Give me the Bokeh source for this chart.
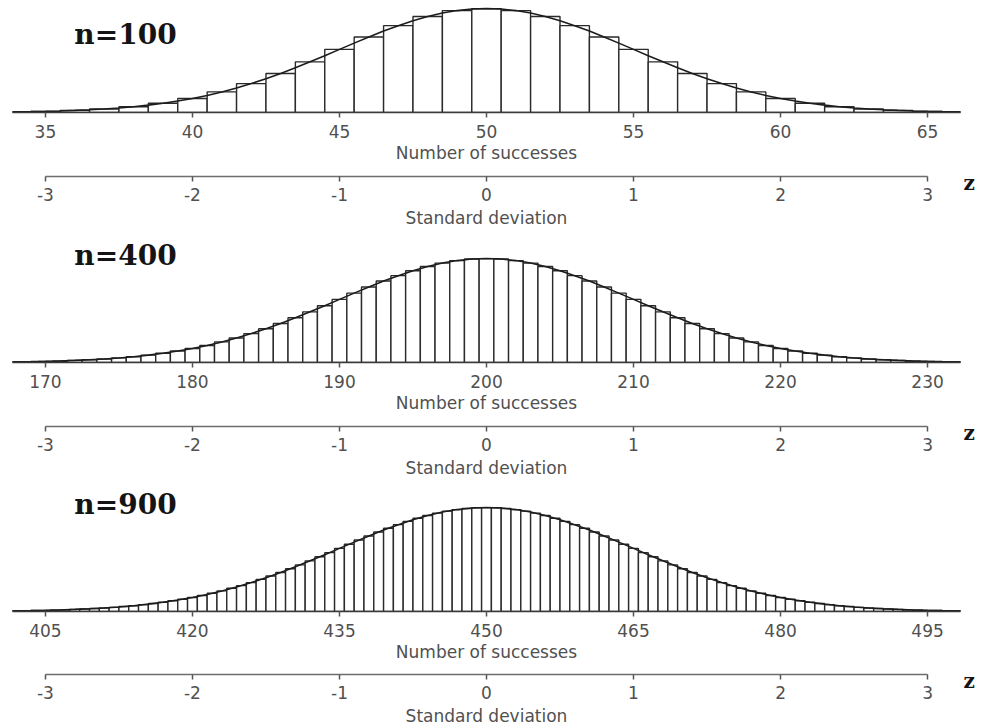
from bokeh.plotting import figure
from bokeh.models import Range1d, FixedTicker, Label
from bokeh.layouts import column
from bokeh.embed import file_html
from bokeh.resources import INLINE

# ---------------- data ----------------
trials = ["n=100", "n=400", "n=900"]
means = [50, 200, 450]
sds = [5, 10, 15]

ticks_100 = [35, 40, 45, 50, 55, 60, 65]
ticks_400 = [170, 180, 190, 200, 210, 220, 230]
ticks_900 = [405, 420, 435, 450, 465, 480, 495]
ticks_z = [-3, -2, -1, 0, 1, 2, 3]
labels_z = ["-3", "-2", "-1", "0", "1", "2", "3"]

# bar heights, relative to the peak of the normal curve
k_100 = list(range(33, 68))
h_100 = [0.003, 0.006, 0.011, 0.020, 0.034, 0.056, 0.089, 0.135, 0.198, 0.278,
         0.375, 0.487, 0.607, 0.726, 0.835, 0.923, 0.980, 0.997, 0.980, 0.923,
         0.835, 0.726, 0.607, 0.487, 0.375, 0.278, 0.198, 0.135, 0.089, 0.056,
         0.034, 0.020, 0.011, 0.006, 0.003]

k_400 = list(range(167, 234))
h_400 = [0.004, 0.006, 0.008, 0.011, 0.015, 0.020, 0.026, 0.034, 0.044, 0.056,
         0.071, 0.089, 0.110, 0.135, 0.164, 0.198, 0.236, 0.278, 0.325, 0.375,
         0.430, 0.487, 0.546, 0.607, 0.667, 0.726, 0.783, 0.835, 0.882, 0.923,
         0.956, 0.980, 0.995, 0.999, 0.995, 0.980, 0.956, 0.923, 0.882, 0.835,
         0.783, 0.726, 0.667, 0.607, 0.546, 0.487, 0.430, 0.375, 0.325, 0.278,
         0.236, 0.198, 0.164, 0.135, 0.110, 0.089, 0.071, 0.056, 0.044, 0.034,
         0.026, 0.020, 0.015, 0.011, 0.008, 0.006, 0.004]

k_900 = list(range(401, 500))
h_900 = [0.005, 0.006, 0.007, 0.009, 0.011, 0.014, 0.016, 0.020, 0.024, 0.029,
         0.034, 0.040, 0.048, 0.056, 0.066, 0.077, 0.089, 0.103, 0.118, 0.135,
         0.154, 0.175, 0.198, 0.223, 0.249, 0.278, 0.309, 0.341, 0.375, 0.411,
         0.448, 0.487, 0.526, 0.566, 0.607, 0.647, 0.687, 0.726, 0.764, 0.801,
         0.835, 0.867, 0.897, 0.923, 0.946, 0.965, 0.980, 0.991, 0.998, 0.999,
         0.998, 0.991, 0.980, 0.965, 0.946, 0.923, 0.897, 0.867, 0.835, 0.801,
         0.764, 0.726, 0.687, 0.647, 0.607, 0.566, 0.526, 0.487, 0.448, 0.411,
         0.375, 0.341, 0.309, 0.278, 0.249, 0.223, 0.198, 0.175, 0.154, 0.135,
         0.118, 0.103, 0.089, 0.077, 0.066, 0.056, 0.048, 0.040, 0.034, 0.029,
         0.024, 0.020, 0.016, 0.014, 0.011, 0.009, 0.007, 0.006, 0.005]

# normal curve (in standard-deviation units)
curve_z = [-3.3, -3.2, -3.1, -3.0, -2.9, -2.8, -2.7, -2.6, -2.5, -2.4, -2.3, -2.2,
           -2.1, -2.0, -1.9, -1.8, -1.7, -1.6, -1.5, -1.4, -1.3, -1.2, -1.1, -1.0,
           -0.9, -0.8, -0.7, -0.6, -0.5, -0.4, -0.3, -0.2, -0.1, 0.0, 0.1, 0.2,
           0.3, 0.4, 0.5, 0.6, 0.7, 0.8, 0.9, 1.0, 1.1, 1.2, 1.3, 1.4, 1.5, 1.6,
           1.7, 1.8, 1.9, 2.0, 2.1, 2.2, 2.3, 2.4, 2.5, 2.6, 2.7, 2.8, 2.9, 3.0,
           3.1, 3.2, 3.3]
curve_y = [0.004, 0.006, 0.008, 0.011, 0.015, 0.020, 0.026, 0.034, 0.044, 0.056,
           0.071, 0.089, 0.110, 0.135, 0.164, 0.198, 0.236, 0.278, 0.325, 0.375,
           0.430, 0.487, 0.546, 0.607, 0.667, 0.726, 0.783, 0.835, 0.882, 0.923,
           0.956, 0.980, 0.995, 1.000, 0.995, 0.980, 0.956, 0.923, 0.882, 0.835,
           0.783, 0.726, 0.667, 0.607, 0.546, 0.487, 0.430, 0.375, 0.325, 0.278,
           0.236, 0.198, 0.164, 0.135, 0.110, 0.089, 0.071, 0.056, 0.044, 0.034,
           0.026, 0.020, 0.015, 0.011, 0.008, 0.006, 0.004]

# ---------------- styling / layout ----------------
W = 982
LEFT, RIGHT = 12, 22   # borders around the histogram frames
ZSPAN = 3.224          # half-width of the visible x range, in sd units
PX_PER_SD = (W - LEFT - RIGHT) / (2 * ZSPAN)
PEAK_PX = 104          # pixel height of the curve peak above the baseline
SANS = "DejaVu Sans"
SERIF = "DejaVu Serif"
TXT = "#505050"


def style_axis(ax, line_color, standoff, label_standoff):
    ax.axis_line_color = line_color
    ax.axis_line_width = 1.6
    ax.major_tick_line_color = "#555555"
    ax.major_tick_line_width = 1.5
    ax.major_tick_out = 5
    ax.major_tick_in = 0
    ax.minor_tick_line_color = None
    ax.major_label_text_font = SANS
    ax.major_label_text_font_size = "17px"
    ax.major_label_text_color = TXT
    ax.major_label_standoff = standoff
    ax.axis_label_text_font = SANS
    ax.axis_label_text_font_size = "17px"
    ax.axis_label_text_font_style = "normal"
    ax.axis_label_text_color = TXT
    ax.axis_label_standoff = label_standoff


def hist_panel(k, h, mean, sd, ticks, name, frame_h, bottom, title_y):
    p = figure(width=W, height=frame_h + bottom,
               x_range=Range1d(mean - ZSPAN * sd, mean + ZSPAN * sd),
               y_range=Range1d(0, frame_h / PEAK_PX), title=None,
               output_backend="svg", toolbar_location=None,
               y_axis_location=None, x_axis_location="below",
               min_border_left=LEFT, min_border_right=RIGHT,
               min_border_top=0, min_border_bottom=bottom,
               background_fill_color="white", border_fill_color="white",
               outline_line_color=None, frame_align=False)
    p.extra_x_ranges = {"z": Range1d(-ZSPAN, ZSPAN)}
    p.grid.visible = False
    p.vbar(x=k, top=h, bottom=0, width=1, fill_color="white",
           line_color="#2b2b2b", line_width=1.4)
    p.line(curve_z, curve_y, x_range_name="z", line_color="#1c1c1c",
           line_width=1.6)
    ax = p.xaxis[0]
    ax.ticker = FixedTicker(ticks=ticks)
    ax.axis_label = "Number of successes"
    style_axis(ax, "#3a3a3a", 7, 2)
    p.add_layout(Label(x=113, y=title_y, x_units="screen", y_units="screen",
                       text=name, text_font=SERIF, text_font_style="bold",
                       text_font_size="28px", text_color="#141414",
                       text_align="center", text_baseline="middle"))
    return p


def z_panel(height, line_top, standoff, label_standoff):
    # the frame fills the whole strip; the axis sits at a fixed height in it
    x_end = -ZSPAN + (W - LEFT) / PX_PER_SD
    p = figure(width=W, height=height,
               x_range=Range1d(-ZSPAN, x_end), y_range=Range1d(0, height),
               title=None, output_backend="svg", toolbar_location=None,
               y_axis_location=None, x_axis_location="below",
               min_border_left=LEFT, min_border_right=0,
               min_border_top=0, min_border_bottom=0,
               background_fill_color="white", border_fill_color="white",
               outline_line_color=None, frame_align=False)
    p.grid.visible = False
    line_y = height - line_top
    ax = p.xaxis[0]
    ax.fixed_location = line_y
    ax.ticker = FixedTicker(ticks=ticks_z)
    ax.major_label_overrides = dict(zip(ticks_z, labels_z))
    ax.bounds = (-3, 3)
    ax.axis_label = "Standard deviation"
    style_axis(ax, "#6e6e6e", standoff, label_standoff)
    p.add_layout(Label(x=3.245, y=line_y - 6, text="z",
                       text_font=SERIF, text_font_style="bold",
                       text_font_size="20px", text_color="#141414",
                       text_align="left", text_baseline="alphabetic"))
    return p


a1 = hist_panel(k_100, h_100, means[0], sds[0], ticks_100, trials[0], 112, 56, 78)
z1 = z_panel(66, 8, 6, 4)
a2 = hist_panel(k_400, h_400, means[1], sds[1], ticks_400, trials[1], 128, 56, 107)
z2 = z_panel(66, 8, 6, 4)
a3 = hist_panel(k_900, h_900, means[2], sds[2], ticks_900, trials[2], 127, 55, 107)
z3 = z_panel(58, 8, 6, 4)

layout = column(a1, z1, a2, z2, a3, z3, spacing=0)

with open("out.html", "w") as f:
    f.write(file_html(layout, INLINE))
